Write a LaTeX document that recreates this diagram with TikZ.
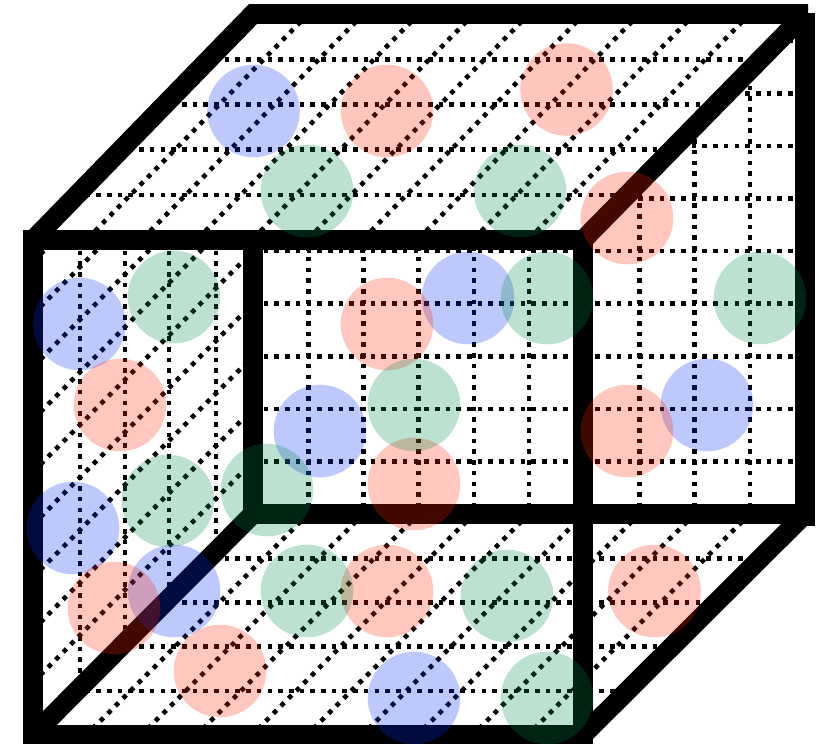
\documentclass[tikz,border=0pt]{standalone}
\definecolor{ballblue}{RGB}{0,45,245}
\definecolor{ballred}{RGB}{255,38,0}
\definecolor{ballgreen}{RGB}{0,140,75}
\begin{document}
\begin{tikzpicture}[x=0.5pt,y=-0.5pt,
  gridline/.style={line width=2.3pt, dash pattern=on 2.3pt off 3.05pt, black},
  edge/.style={line width=9.8pt, line cap=butt, line join=miter, black},
  ball/.style={fill opacity=0.26, draw=none}]
\useasboundingbox (0,0) rectangle (831,744);
% back face (visible part)
\begin{scope}
\clip (253,240) -- (583,240) -- (805,14) -- (805,514) -- (253,514) -- cycle;
\foreach \k in {1,...,9} \draw[gridline] ({253+55.2*\k},0) -- ({253+55.2*\k},514);
\foreach \k in {1,...,9} \draw[gridline] (253,{514-52.6*\k}) -- (805,{514-52.6*\k});
\end{scope}
% left face
\begin{scope}
\clip (33,240) -- (253,240) -- (253,514) -- (33,735) -- cycle;
\foreach \x in {80,125,169,216} \draw[gridline] (\x,240) -- (\x,735);
\foreach \k in {1,...,9} \draw[gridline] (33,{735-52.6*\k}) -- (253,{514-52.6*\k});
\end{scope}
% bottom face
\begin{scope}
\clip (33,735) -- (583,735) -- (805,514) -- (253,514) -- cycle;
\foreach \k in {1,...,4} \draw[gridline] (0,{514+44.2*\k}) -- (831,{514+44.2*\k});
\foreach \k in {1,...,9} \draw[gridline] ({253+55.2*\k},514) -- ({31+55.2*\k},735);
\end{scope}
% top face
\fill[white] (33,240) -- (583,240) -- (805,14) -- (253,14) -- cycle;
\begin{scope}
\clip (33,240) -- (583,240) -- (805,14) -- (253,14) -- cycle;
\foreach \k in {1,...,4} \draw[gridline] (0,{14+45.2*\k}) -- (831,{14+45.2*\k});
\foreach \k in {1,...,9} \draw[gridline] ({253+55.2*\k},14) -- ({31+55.2*\k},240);
\end{scope}
% thick edges
\coordinate (FTL) at (33,240);
\coordinate (FTR) at (583,240);
\coordinate (FBR) at (583,735);
\coordinate (FBL) at (33,735);
\coordinate (BTL) at (253,14);
\coordinate (BTR) at (805,14);
\coordinate (BBR) at (805,514);
\coordinate (BBL) at (253,514);
\draw[edge] (FTL) rectangle (FBR);
\draw[edge] (FBL) -- (FTL) -- (BTL) -- (808,14);
\draw[edge] (805,13) -- (805,526);
\draw[edge] (FTR) -- (BTR);
\draw[edge] (BBR) -- (BBL);
\draw[edge] (253,240) -- (253,522);
\draw[edge] (FBR) -- (BBR);
\draw[edge] (FBL) -- (BBL);
% balls
\foreach \p in {(253.5,111),(79.5,324),(468,298),(320,431),(707,405),(73,528),(174,591),(414,698)}
  \fill[ball, ballblue] \p circle[radius=46.3];
\foreach \p in {(387,111),(566.5,89.5),(627,218),(387,324),(120,405),(627,431),(414,484),(114,608),(387,591),(654.5,591),(220,671)}
  \fill[ball, ballred] \p circle[radius=46.3];
\foreach \p in {(307,191),(520,191),(174,297),(547,298),(760,298),(414,405),(267,490),(168,501),(307,591),(507,596),(547,698)}
  \fill[ball, ballgreen] \p circle[radius=46.3];
\end{tikzpicture}
\end{document}
